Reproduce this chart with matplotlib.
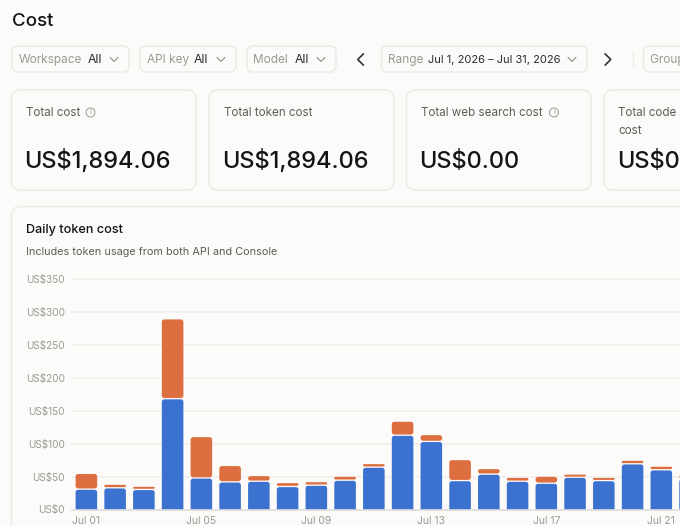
#!/usr/bin/env python3
"""Cost dashboard screenshot: filter pills, summary cards, daily token cost bars."""

import matplotlib

matplotlib.use("Agg")
import matplotlib.pyplot as plt
from matplotlib.patches import Circle, FancyBboxPatch

W, H = 680, 526
BG = "#FCFBF9"
BORDER = "#EDECE8"
BLUE = "#3C72CF"
ORANGE = "#DD6E3F"
DARK = "#141413"
MID = "#5E5D59"
LIGHT = "#9A9994"

DAYS = list(range(1, 23))
API_COST = [30, 32, 29.5, 167.5, 47, 41, 42, 34, 36, 43.6, 63.4, 112, 102.5, 43, 52.8, 42, 39, 48, 43, 68.5, 59.4, 46]
CONSOLE_COST = [24, 5.5, 5, 121.5, 63, 25, 8.7, 6, 5.5, 6.1, 5.6, 21.4, 10.5, 32, 8.6, 6, 10.7, 5, 5, 5.5, 5.6, 6]
Y_TICKS = [0, 50, 100, 150, 200, 250, 300, 350]
X_TICKS = [1, 5, 9, 13, 17, 21]
X_LABELS = ["Jul 01", "Jul 05", "Jul 09", "Jul 13", "Jul 17", "Jul 21"]

# pill left, pill right, label, label x, value, value x, value size
FILTERS = [
    (12, 129, "Workspace", 19, "All", 87.5, 8.8),
    (140, 236, "API key", 147, "All", 194, 8.8),
    (247, 336, "Model", 253.5, "All", 294.5, 8.8),
    (381.5, 587, "Range", 388, "Jul 1, 2026 – Jul 31, 2026", 428.5, 8.0),
]
CARDS = [
    (11.5, 196, "Total cost", "US$1,894.06"),
    (209, 394, "Total token cost", "US$1,894.06"),
    (406.5, 591, "Total web search cost", "US$0.00"),
    (604, 800, "Total code execution\ncost", "US$0.00"),
]
INFO_ICONS = [(90.5, 112.5), (554, 112.5)]


def box(ax, x0, y0, x1, y1, r, lw=1.2):
    ax.add_patch(
        FancyBboxPatch(
            (x0, y0), x1 - x0, y1 - y0,
            boxstyle=f"round,pad=0,rounding_size={r}",
            facecolor=BG, edgecolor=BORDER, linewidth=lw,
        )
    )


def chevron(ax, x, y, direction, size, color, lw):
    if direction == "down":
        ax.plot([x - size, x, x + size], [y - size / 2, y + size / 2, y - size / 2], color=color, lw=lw)
    elif direction == "left":
        ax.plot([x + size / 2, x - size / 2, x + size / 2], [y - size, y, y + size], color=color, lw=lw)
    else:
        ax.plot([x - size / 2, x + size / 2, x - size / 2], [y - size, y, y + size], color=color, lw=lw)


def round_bars(ax, bars, color, aspect, gap=0.0, radius=0.087):
    # ax.bar gives the geometry, the rounded patch replaces the square one
    for b in bars:
        x, y, w, h = b.get_x(), b.get_y(), b.get_width(), b.get_height()
        y += gap
        h -= gap
        r = min(radius, h / 2 / aspect)
        ax.add_patch(
            FancyBboxPatch(
                (x, y), w, h,
                boxstyle=f"round,pad=0,rounding_size={r}",
                mutation_aspect=aspect, facecolor=color, edgecolor="none", linewidth=0,
            )
        )
        b.set_visible(False)


plt.rcParams["font.family"] = ["Inter", "DejaVu Sans"]
fig = plt.figure(figsize=(W / 100, H / 100), dpi=100, facecolor=BG)

ui = fig.add_axes([0, 0, 1, 1])
ui.set_xlim(0, W)
ui.set_ylim(H, 0)
ui.axis("off")

ui.text(12, 21, "Cost", fontsize=13.5, color=DARK, va="center", fontweight="medium")

for x0, x1, label, label_x, value, value_x, value_size in FILTERS:
    box(ui, x0, 46, x1, 72, 6)
    ui.text(label_x, 60, label, fontsize=8.5, color=LIGHT, va="center")
    ui.text(value_x, 60, value, fontsize=value_size, color="#2B2B29", va="center")
    chevron(ui, x1 - 15, 59.5, "down", 3.8, LIGHT, 0.9)

chevron(ui, 360.5, 59.5, "left", 5.5, "#333331", 1.2)
chevron(ui, 608, 59.5, "right", 5.5, "#333331", 1.2)
ui.plot([632.5, 632.5], [52, 66], color=BORDER, lw=1)
box(ui, 643.5, 46, 760, 72, 6)
ui.text(650, 60, "Group by", fontsize=8.5, color=LIGHT, va="center")

for x0, x1, label, value in CARDS:
    box(ui, x0, 90, x1, 190, 9)
    ui.text(x0 + 14.5, 107, label, fontsize=8.35, color=MID, va="top", linespacing=1.65)
    ui.text(x0 + 13, 161.5, value, fontsize=17, color=DARK, va="center", fontweight="medium")
for cx, cy in INFO_ICONS:
    ui.add_patch(Circle((cx, cy), 4.5, facecolor="none", edgecolor=LIGHT, linewidth=0.7))
    ui.text(cx, cy, "i", fontsize=5.5, color=LIGHT, ha="center", va="center")

box(ui, 11.5, 206.5, 800, 700, 9)
ui.text(26, 229.5, "Daily token cost", fontsize=9.1, color=DARK, va="center", fontweight="medium")
ui.text(26, 252, "Includes token usage from both API and Console", fontsize=7.85, color=MID, va="center")

# chart axes placed on the pixel positions of the screenshot
left, right, top, bottom = 72, 680, 279.3, 509.5
ax = fig.add_axes([left / W, 1 - bottom / H, (right - left) / W, (bottom - top) / H])
ax.patch.set_visible(False)
ax.set_xlim(0.5, 21.65)
ax.set_ylim(0, 350)
aspect = (350 / (bottom - top)) / (21.15 / (right - left))

blue_bars = ax.bar(DAYS, [v + 6 for v in API_COST], bottom=-6, width=0.75, color=BLUE)
orange_bars = ax.bar(DAYS, CONSOLE_COST, bottom=API_COST, width=0.75, color=ORANGE)
round_bars(ax, blue_bars, BLUE, aspect)
round_bars(ax, orange_bars, ORANGE, aspect, gap=2.0)

ax.set_yticks(Y_TICKS)
ax.set_yticklabels([f"US${v}" for v in Y_TICKS], fontsize=7.2, color=LIGHT)
ax.set_xticks(X_TICKS)
ax.set_xticklabels(X_LABELS, fontsize=7.5, color=LIGHT)
ax.tick_params(axis="both", length=0)
ax.tick_params(axis="y", pad=5)
ax.tick_params(axis="x", pad=4.5)
ax.grid(True, axis="y", color="#F0EFEB", linewidth=1.2, clip_on=False)
ax.set_axisbelow(True)
for side in ("top", "left", "right"):
    ax.spines[side].set_visible(False)
ax.spines["bottom"].set_color("#DFDEDA")
ax.spines["bottom"].set_linewidth(1.2)

fig.savefig("out.png", dpi=100, facecolor=BG)
plt.close(fig)
